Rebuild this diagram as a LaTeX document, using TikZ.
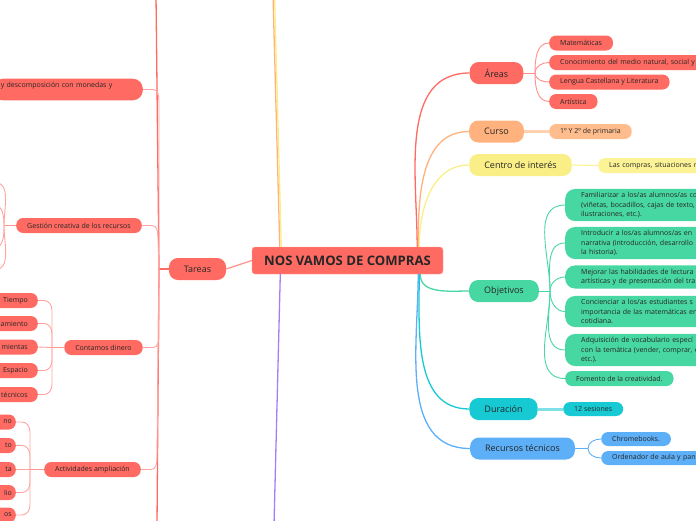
\documentclass[tikz,border=0pt]{standalone}
\usepackage{fontspec}
\setmainfont{Open Sans}
\usepackage{tikz}
\definecolor{MapRed}{HTML}{FF6A62}
\definecolor{MapOrange}{HTML}{FFB27D}
\definecolor{SoftOrange}{HTML}{FFBD8E}
\definecolor{MapYellow}{HTML}{FAEF86}
\definecolor{SoftYellow}{HTML}{FCF396}
\definecolor{MapGreen}{HTML}{47D7A3}
\definecolor{MapCyan}{HTML}{16C9D3}
\definecolor{MapBlue}{HTML}{5DAFF7}
\definecolor{MapPurple}{HTML}{A37FF5}
\definecolor{InkDark}{HTML}{262626}

\begin{document}
\begin{tikzpicture}[x=1pt,y=-1pt,
root/.style={fill=MapRed,draw=MapRed!60!white,rounded corners=3pt,minimum height=27pt,minimum width=191pt,inner xsep=12pt,font=\fontsize{13.1}{16}\selectfont\bfseries,text=InkDark},
topic/.style={rounded corners=9pt,minimum height=22pt,inner xsep=15pt,font=\fontsize{9}{11}\selectfont,text=InkDark},
leaf/.style={rounded corners=7pt,minimum height=15pt,inner xsep=11pt,font=\fontsize{7}{9.5}\selectfont,text=InkDark},
longleaf/.style={leaf,rounded corners=10pt,anchor=west,align=left,text width=150pt,inner xsep=16pt},
link/.style={line width=1.3pt},
twig/.style={line width=0.9pt}
]
\useasboundingbox (0,0) rectangle (696,520);
\clip (0,0) rectangle (696,520);

% central topic
\node[root] (main) at (347.5,260.5) {NOS VAMOS DE COMPRAS};

% right branches
\node[topic,fill=MapRed] (areas) at (496.5,73) {Áreas};
\node[topic,fill=MapOrange] (curso) at (496.5,131.5) {Curso};
\node[topic,fill=MapYellow] (centro) at (520.5,165) {Centro de interés};
\node[topic,fill=MapGreen] (objetivos) at (504,291) {Objetivos};
\node[topic,fill=MapCyan] (duracion) at (503.5,409) {Duración};
\node[topic,fill=MapBlue] (recursos) at (522.5,448.5) {Recursos técnicos};

\node[leaf,fill=MapRed,anchor=west] (mate) at (549,43) {Matemáticas};
\node[leaf,fill=MapRed,anchor=west,align=left,text width=160pt] (medio) at (549,62.5) {Conocimiento del medio natural, social y};
\node[leaf,fill=MapRed,anchor=west] (lengua) at (549,82) {Lengua Castellana y Literatura};
\node[leaf,fill=MapRed,anchor=west] (artistica) at (549,101.5) {Artística};
\node[leaf,fill=SoftOrange,anchor=west] (primaria) at (549,131.5) {1º Y 2º de primaria};
\node[leaf,fill=SoftYellow,anchor=west,align=left,text width=120pt] (compras) at (598,165.5) {Las compras, situaciones r};

\node[longleaf,fill=MapGreen] (obj1) at (565,205) {Familiarizar a los/as alumnos/as co\\(viñetas, bocadillos, cajas de texto,\\ilustraciones, etc.).};
\node[longleaf,fill=MapGreen] (obj2) at (565,243) {Introducir a los/as alumnos/as en\\narrativa (introducción, desarrollo\\la historia).};
\node[longleaf,fill=MapGreen] (obj3) at (565,277) {Mejorar las habilidades de lectura\\artísticas y de presentación del tra};
\node[longleaf,fill=MapGreen] (obj4) at (565,311.5) {Concienciar a los/as estudiantes s\\importancia de las matemáticas en\\cotidiana.};
\node[longleaf,fill=MapGreen] (obj5) at (565,350) {Adquisición de vocabulario especí\\con la temática (vender, comprar, e\\etc.).};
\node[leaf,fill=MapGreen,anchor=west] (obj6) at (565,378.5) {Fomento de la creatividad.};

\node[leaf,fill=MapCyan,anchor=west,minimum height=14pt] (sesiones) at (563,409) {12 sesiones};
\node[leaf,fill=MapBlue,anchor=west,minimum height=14pt] (chrome) at (601,439) {Chromebooks.};
\node[leaf,fill=MapBlue,anchor=west,minimum height=14pt,align=left,text width=100pt] (ordenador) at (601,458) {Ordenador de aula y pan};

% left branch
\node[topic,fill=MapRed] (tareas) at (197.5,269) {Tareas};
\node[leaf,fill=MapRed,anchor=east,align=left,text width=134pt,inner xsep=8pt,rounded corners=10pt] (monedas) at (143,89.5) {y descomposición con monedas y\\ \mbox{}};
\node[leaf,fill=MapRed] (gestion) at (79,225.5) {Gestión creativa de los recursos};
\node[leaf,fill=MapRed] (contamos) at (103.5,347.5) {Contamos dinero};
\node[leaf,fill=MapRed] (ampliacion) at (92.5,469.5) {Actividades ampliación};

\node[leaf,fill=MapRed,anchor=east,align=right,text width=50pt,inner xsep=10pt] (tiempo) at (38,300.5) {Tiempo};
\node[leaf,fill=MapRed,anchor=east,align=right,text width=50pt,inner xsep=10pt] (agrup) at (38,323.5) {amiento};
\node[leaf,fill=MapRed,anchor=east,align=right,text width=50pt,inner xsep=10pt] (herram) at (38,347) {mientas};
\node[leaf,fill=MapRed,anchor=east,align=right,text width=50pt,inner xsep=10pt] (espacio) at (38,370.5) {Espacio};
\node[leaf,fill=MapRed,anchor=east,align=right,text width=50pt,inner xsep=10pt] (tecnicos) at (38,394.5) {técnicos};

\node[leaf,fill=MapRed,anchor=east,align=right,text width=40pt,inner xsep=4pt] (amp1) at (16,422) {no};
\node[leaf,fill=MapRed,anchor=east,align=right,text width=40pt,inner xsep=4pt] (amp2) at (16,445.5) {to};
\node[leaf,fill=MapRed,anchor=east,align=right,text width=40pt,inner xsep=4pt] (amp3) at (16,469.5) {ta};
\node[leaf,fill=MapRed,anchor=east,align=right,text width=40pt,inner xsep=4pt] (amp4) at (16,492.5) {lio};
\node[leaf,fill=MapRed,anchor=east,align=right,text width=40pt,inner xsep=4pt] (amp5) at (16,515) {os};

% junctions and loose ends
\coordinate (tj) at (159,269);
\coordinate (ttop) at (156,-5);
\coordinate (tbot) at (157,525);
\coordinate (cj) at (52,347.5);
\coordinate (acj) at (30,469.5);
\coordinate (gj) at (4,225.5);
\coordinate (g1) at (-6,182);
\coordinate (g2) at (-6,205);
\coordinate (g3) at (-6,248);
\coordinate (g4) at (-6,270);
\coordinate (aj) at (535,73);
\coordinate (oj) at (550,291);
\coordinate (rj) at (588,448.5);
\coordinate (upo) at (273,-5);
\coordinate (upy) at (274.5,-5);
\coordinate (dnp) at (274,525);

% connectors from the centre
\draw[link,MapOrange] ([xshift=28pt]main.north west) -- (upo);
\draw[link,MapYellow] ([xshift=29.5pt]main.north west) -- (upy);
\draw[link,MapPurple] ([xshift=28.5pt]main.south west) -- (dnp);
\draw[link,MapRed!70] (tareas.east) -- (main.west);
\draw[link,MapRed] ([xshift=-26pt]main.north east) to[out=90,in=180] (areas.west);
\draw[link,MapOrange] ([xshift=-25pt]main.north east) to[out=90,in=180] (curso.west);
\draw[link,MapYellow] ([xshift=-24pt]main.north east) to[out=90,in=180] (centro.west);
\draw[link,MapGreen] ([xshift=-23pt]main.south east) to[out=-90,in=180] (objetivos.west);
\draw[link,MapCyan] ([xshift=-24pt]main.south east) to[out=-90,in=180] (duracion.west);
\draw[link,MapBlue] ([xshift=-25pt]main.south east) to[out=-90,in=180] (recursos.west);

% right leaves
\draw[twig,MapRed!75] (areas.east) -- (aj);
\draw[twig,MapRed!75] (aj) to[out=90,in=180] (mate.west);
\draw[twig,MapRed!75] (aj) to[out=90,in=180] (medio.west);
\draw[twig,MapRed!75] (aj) to[out=-90,in=180] (lengua.west);
\draw[twig,MapRed!75] (aj) to[out=-90,in=180] (artistica.west);
\draw[line width=2.5pt,SoftOrange!70] (curso.east) -- (primaria.west);
\draw[line width=1.2pt,SoftYellow] (centro.east) -- (compras.west);
\draw[twig,MapGreen] (objetivos.east) -- (oj);
\foreach \o in {obj1,obj2,obj3}
  \draw[twig,MapGreen] (oj) to[out=90,in=180] (\o.west);
\foreach \o in {obj4,obj5,obj6}
  \draw[twig,MapGreen] (oj) to[out=-90,in=180] (\o.west);
\draw[line width=3pt,MapCyan!55] (duracion.east) -- (sesiones.west);
\draw[twig,MapBlue] (recursos.east) -- (rj);
\draw[twig,MapBlue] (rj) to[out=90,in=180] (chrome.west);
\draw[twig,MapBlue] (rj) to[out=-90,in=180] (ordenador.west);

% Tareas spine
\draw[link,MapRed] (tareas.west) -- (tj);
\draw[link,MapRed] (ttop) -- (tj) -- (tbot);
\draw[twig,MapRed!60] (monedas.east) -- ++(10,0) to[out=0,in=90] ++(6,12) -- (tj);
\draw[twig,MapRed!60] (gestion.east) -- ++(10,0) to[out=0,in=90] ++(6,12) -- (tj);
\draw[twig,MapRed!60] (contamos.east) -- ++(10,0) to[out=0,in=-90] ++(6,-12) -- (tj);
\draw[twig,MapRed!60] (ampliacion.east) -- ++(10,0) to[out=0,in=-90] ++(6,-12) -- (tj);

% Gestion off-page children
\draw[twig,MapRed!70] (gestion.west) -- (gj);
\draw[twig,MapRed!60] (gj) to[out=90,in=0] (g1);
\draw[twig,MapRed!60] (gj) to[out=90,in=0] (g2);
\draw[twig,MapRed!60] (gj) to[out=-90,in=0] (g3);
\draw[twig,MapRed!60] (gj) to[out=-90,in=0] (g4);

% Contamos children
\draw[twig,MapRed!70] (cj) -- (contamos.west);
\draw[twig,MapRed!60] (tiempo.east) -- ++(6,0) to[out=0,in=90] ++(8,10) -- (cj);
\draw[twig,MapRed!60] (agrup.east) -- ++(6,0) to[out=0,in=90] ++(8,10) -- (cj);
\draw[twig,MapRed!60] (herram.east) -- (cj);
\draw[twig,MapRed!60] (espacio.east) -- ++(6,0) to[out=0,in=-90] ++(8,-10) -- (cj);
\draw[twig,MapRed!60] (tecnicos.east) -- ++(6,0) to[out=0,in=-90] ++(8,-10) -- (cj);

% Actividades children
\draw[twig,MapRed!70] (acj) -- (ampliacion.west);
\draw[twig,MapRed!60] (amp1.east) -- ++(6,0) to[out=0,in=90] ++(8,10) -- (acj);
\draw[twig,MapRed!60] (amp2.east) -- ++(6,0) to[out=0,in=90] ++(8,10) -- (acj);
\draw[twig,MapRed!60] (amp3.east) -- (acj);
\draw[twig,MapRed!60] (amp4.east) -- ++(6,0) to[out=0,in=-90] ++(8,-10) -- (acj);
\draw[twig,MapRed!60] (amp5.east) -- ++(6,0) to[out=0,in=-90] ++(8,-10) -- (acj);
\end{tikzpicture}
\end{document}
